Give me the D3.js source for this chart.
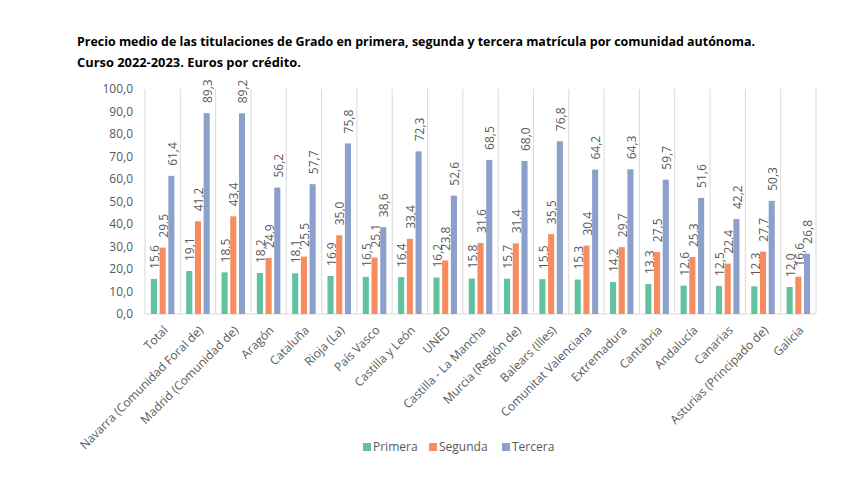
<!DOCTYPE html>
<html>
<head>
<meta charset="utf-8">
<script src="https://cdn.jsdelivr.net/npm/d3@7"></script>
<style>
  body { margin: 0; background: #fff; }
  text { font-family: "Open Sans", sans-serif; }
</style>
</head>
<body>
<svg id="chart" width="867" height="484"></svg>
<script>
// categories (comunidades) in chart order
const categories = [
  "Total", "Navarra (Comunidad Foral de)", "Madrid (Comunidad de)", "Aragón",
  "Cataluña", "Rioja (La)", "País Vasco", "Castilla y León", "UNED",
  "Castilla - La Mancha", "Murcia (Región de)", "Balears (Illes)",
  "Comunitat Valenciana", "Extremadura", "Cantabria", "Andalucía",
  "Canarias", "Asturias (Principado de)", "Galicia"
];
const seriesNames = ["Primera", "Segunda", "Tercera"];
const primera = [15.6, 19.1, 18.5, 18.2, 18.1, 16.9, 16.5, 16.4, 16.2, 15.8, 15.7, 15.5, 15.3, 14.2, 13.3, 12.6, 12.5, 12.3, 12.0];
const segunda = [29.5, 41.2, 43.4, 24.9, 25.5, 35.0, 25.1, 33.4, 23.8, 31.6, 31.4, 35.5, 30.4, 29.7, 27.5, 25.3, 22.4, 27.7, 16.6];
const tercera = [61.4, 89.3, 89.2, 56.2, 57.7, 75.8, 38.6, 72.3, 52.6, 68.5, 68.0, 76.8, 64.2, 64.3, 59.7, 51.6, 42.2, 50.3, 26.8];
const yTicks = [0, 10, 20, 30, 40, 50, 60, 70, 80, 90, 100];
const titleLines = [
  "Precio medio de las titulaciones de Grado en primera, segunda y tercera matrícula por comunidad autónoma.",
  "Curso 2022-2023. Euros por crédito."
];

const colors = ["#63c29e", "#f78c60", "#8d9fcb"];
const seriesValues = [primera, segunda, tercera];

const margin = { top: 89, left: 145, right: 51, bottom: 170 };
const width = 867, height = 484;
const plotW = width - margin.left - margin.right;
const plotH = height - margin.top - margin.bottom;

const svg = d3.select("#chart");
const es = d3.formatLocale({ decimal: ",", thousands: ".", grouping: [3], currency: ["", "€"] });
const fmt = es.format(".1f");

// title
svg.selectAll("text.title")
  .data(titleLines)
  .join("text")
  .attr("class", "title")
  .attr("x", 77)
  .attr("y", (d, i) => 46 + i * 21)
  .attr("font-family", "Liberation Sans, Arial, sans-serif")
  .attr("font-weight", "bold")
  .attr("font-size", "13px")
  .attr("fill", "#000")
  .attr("textLength", (d, i) => i === 0 ? 678 : 224)
  .attr("lengthAdjust", "spacingAndGlyphs")
  .text(d => d);

const g = svg.append("g").attr("transform", `translate(${margin.left},${margin.top})`);

const x0 = d3.scaleBand().domain(categories).range([0, plotW]).padding(0);
const bw = x0.bandwidth();
const x1 = d3.scaleBand().domain(seriesNames).range([bw * 0.167, bw * 0.833]).paddingInner(0.3);
const y = d3.scaleLinear().domain([0, 100]).range([plotH, 0]);

// vertical separators between categories
g.selectAll("line.sep")
  .data(d3.range(categories.length + 1))
  .join("line")
  .attr("class", "sep")
  .attr("x1", i => i * bw)
  .attr("x2", i => i * bw)
  .attr("y1", y(100))
  .attr("y2", y(0))
  .attr("stroke", "#d9d9d9")
  .attr("stroke-width", 1);

// baseline
g.append("line")
  .attr("x1", 0).attr("x2", plotW)
  .attr("y1", y(0)).attr("y2", y(0))
  .attr("stroke", "#d9d9d9");

// y axis labels
const yAxis = g.append("g")
  .call(d3.axisLeft(y).tickValues(yTicks).tickFormat(fmt).tickSize(0).tickPadding(12));
yAxis.select(".domain").remove();
yAxis.selectAll("text")
  .attr("font-family", "Open Sans, sans-serif")
  .attr("font-size", "12px")
  .attr("fill", "#595959");

// bars
const groups = g.selectAll("g.cat")
  .data(categories)
  .join("g")
  .attr("class", "cat")
  .attr("transform", d => `translate(${x0(d)},0)`);

const cells = groups.selectAll("g.bar")
  .data((d, ci) => seriesNames.map((s, si) => ({ s, si, v: seriesValues[si][ci] })))
  .join("g")
  .attr("class", "bar");

cells.append("rect")
  .attr("x", d => x1(d.s))
  .attr("width", x1.bandwidth())
  .attr("y", d => y(d.v))
  .attr("height", d => y(0) - y(d.v))
  .attr("fill", d => colors[d.si]);

// value labels, rotated
cells.append("text")
  .attr("transform", d => `translate(${x1(d.s) + x1.bandwidth() / 2 + 1},${y(d.v) - 10}) rotate(-90)`)
  .attr("dy", "0.35em")
  .attr("text-anchor", "start")
  .attr("font-size", "12px")
  .attr("fill", "#595959")
  .text(d => fmt(d.v));

// x axis labels
const xAxis = g.append("g")
  .attr("transform", `translate(0,${plotH})`)
  .call(d3.axisBottom(x0).tickSize(0).tickPadding(0));
xAxis.select(".domain").remove();
xAxis.selectAll("text")
  .attr("font-family", "Open Sans, sans-serif")
  .attr("font-size", "12px")
  .attr("fill", "#595959")
  .attr("text-anchor", "end")
  .attr("dy", "0.35em")
  .attr("transform", "translate(3,14) rotate(-45)");

// legend
const legendX = [363, 429, 502];
const legend = svg.append("g").attr("transform", "translate(0,447)");
const items = legend.selectAll("g")
  .data(seriesNames)
  .join("g")
  .attr("transform", (d, i) => `translate(${legendX[i]},0)`);
items.append("rect")
  .attr("x", 0).attr("y", -4)
  .attr("width", 8).attr("height", 8)
  .attr("fill", (d, i) => colors[i]);
items.append("text")
  .attr("x", 10)
  .attr("dy", "0.35em")
  .attr("font-size", "12px")
  .attr("fill", "#595959")
  .text(d => d);
</script>
</body>
</html>
